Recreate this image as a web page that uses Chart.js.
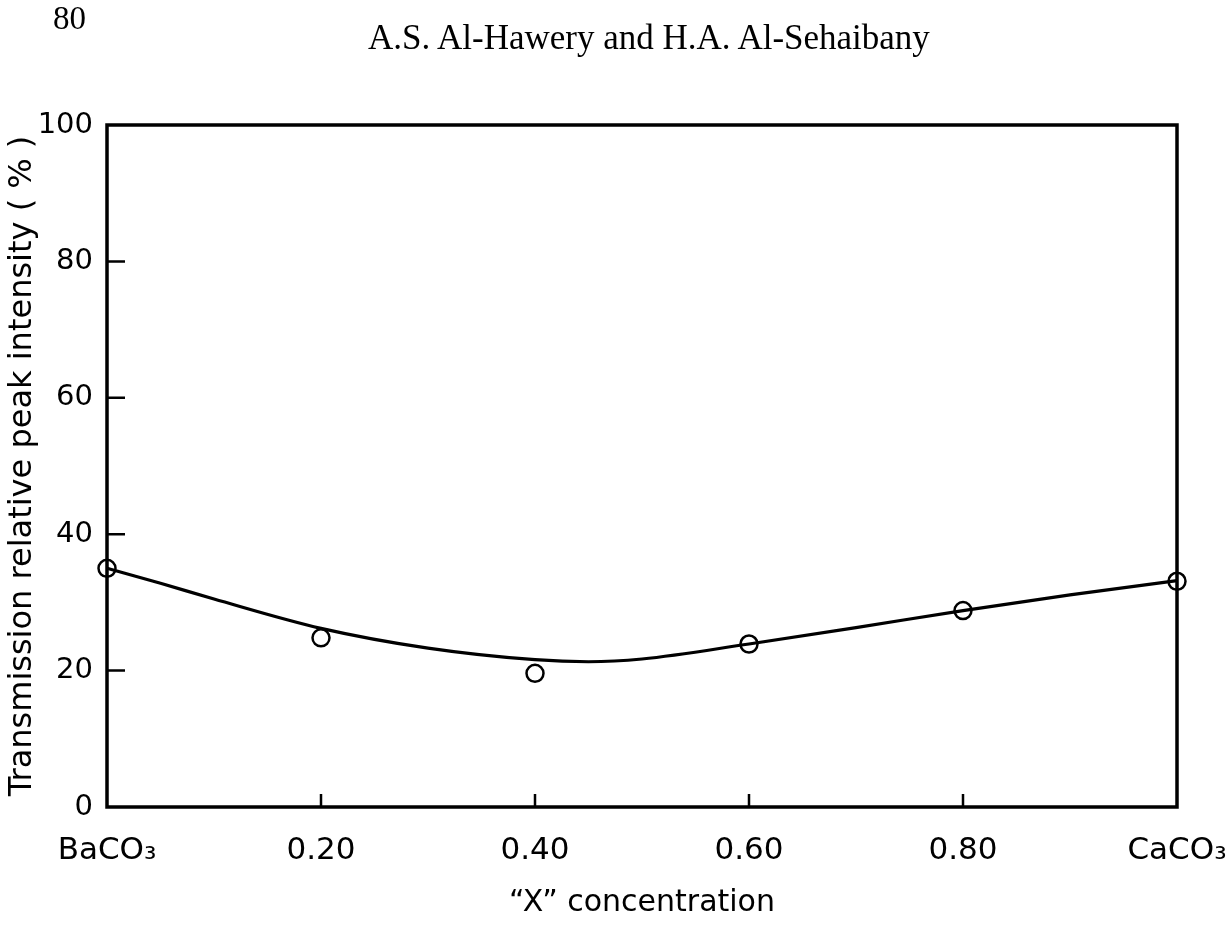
<!DOCTYPE html>
<html>
<head>
<meta charset="utf-8">
<title>Transmission relative peak intensity</title>
<script src="https://cdn.jsdelivr.net/npm/chart.js@4.4.1/dist/chart.umd.min.js"></script>
<style>
  html, body { margin: 0; padding: 0; background: #fff; }
  #page { position: relative; width: 1230px; height: 939px; }
  #pageNo { position: absolute; left: 53px; top: 0px; font: 33px "Liberation Serif", serif; color: #000; }
  #authors { position: absolute; left: 368px; top: 18px; font: 35px "Liberation Serif", serif; color: #000; }
  canvas { position: absolute; left: 0; top: 0; }
</style>
</head>
<body>
<div id="page">
  <canvas id="chart" width="1230" height="939"></canvas>
  <div id="pageNo">80</div>
  <div id="authors">A.S. Al-Hawery and H.A. Al-Sehaibany</div>
</div>
<script>
// measured points (open circles)
const pointX = [0, 0.2, 0.4, 0.6, 0.8, 1.0];
const pointY = [35.0, 24.8, 19.6, 23.9, 28.8, 33.1];

// hand-drawn smooth curve
const curveX = [0, 0.05, 0.1, 0.2, 0.3, 0.4, 0.45, 0.5, 0.6, 0.7, 0.8, 0.9, 1.0];
const curveY = [35.0, 32.8, 30.5, 26.2, 23.3, 21.6, 21.3, 21.7, 23.9, 26.3, 28.8, 31.1, 33.2];

// axis ticks
const xTicks = [0, 0.2, 0.4, 0.6, 0.8, 1.0];
const xTickLabels = ['BaCO\u2083', '0.20', '0.40', '0.60', '0.80', 'CaCO\u2083'];
const yTicks = [0, 20, 40, 60, 80, 100];

const FONT = '"DejaVu Sans", sans-serif';

// frame round the plot and the short inward tick marks
const framePlugin = {
  id: 'frame',
  afterDatasetsDraw(chart) {
    const { ctx, chartArea: a, scales } = chart;
    ctx.save();
    ctx.strokeStyle = '#000';
    ctx.lineWidth = 3.5;
    ctx.strokeRect(a.left, a.top, a.right - a.left, a.bottom - a.top);
    ctx.lineWidth = 2.5;
    ctx.beginPath();
    yTicks.slice(1, -1).forEach(v => {
      const y = scales.y.getPixelForValue(v);
      ctx.moveTo(a.left, y);
      ctx.lineTo(a.left + 18, y);
    });
    xTicks.slice(1, -1).forEach(v => {
      const x = scales.x.getPixelForValue(v);
      ctx.moveTo(x, a.bottom);
      ctx.lineTo(x, a.bottom - 13);
    });
    ctx.stroke();
    ctx.restore();
  }
};

new Chart(document.getElementById('chart').getContext('2d'), {
  type: 'scatter',
  data: {
    datasets: [
      {
        label: 'measured',
        data: pointX.map((x, i) => ({ x: x, y: pointY[i] })),
        showLine: false,
        pointStyle: 'circle',
        pointRadius: 8.5,
        pointBorderWidth: 2.5,
        pointBorderColor: '#000',
        pointBackgroundColor: 'rgba(0,0,0,0)',
        clip: false
      },
      {
        label: 'curve',
        data: curveX.map((x, i) => ({ x: x, y: curveY[i] })),
        showLine: true,
        borderColor: '#000',
        borderWidth: 3.2,
        cubicInterpolationMode: 'monotone',
        pointRadius: 0,
        clip: false
      }
    ]
  },
  options: {
    responsive: false,
    animation: false,
    events: [],
    layout: { padding: { top: 125, right: 53, bottom: 0, left: 0 } },
    plugins: {
      legend: { display: false },
      tooltip: { enabled: false }
    },
    scales: {
      x: {
        type: 'linear',
        min: 0,
        max: 1,
        afterFit: s => { s.height = 132; s.paddingLeft = 0; s.paddingRight = 0; },
        afterBuildTicks: s => { s.ticks = xTicks.map(v => ({ value: v })); },
        grid: { display: false },
        border: { display: false },
        ticks: {
          padding: 17,
          color: '#000',
          font: { family: FONT, size: 31 },
          maxRotation: 0,
          callback: v => xTickLabels[xTicks.indexOf(v)]
        },
        title: {
          display: true,
          text: '\u201CX\u201D concentration',
          color: '#000',
          font: { family: FONT, size: 30 },
          padding: { top: 0, bottom: 18 }
        }
      },
      y: {
        min: 0,
        max: 100,
        afterFit: s => { s.width = 107; },
        afterBuildTicks: s => { s.ticks = yTicks.map(v => ({ value: v })); },
        grid: { display: false },
        border: { display: false },
        ticks: {
          padding: 6,
          color: '#000',
          font: { family: FONT, size: 29 }
        },
        title: {
          display: true,
          text: 'Transmission relative peak intensity ( % )',
          color: '#000',
          font: { family: FONT, size: 32 },
          padding: { top: 3, bottom: 0 }
        }
      }
    }
  },
  plugins: [framePlugin]
});
</script>
</body>
</html>
